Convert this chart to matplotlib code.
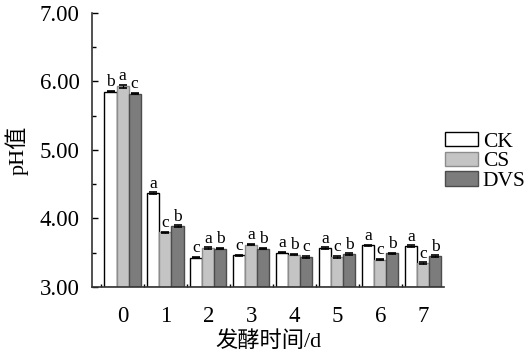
import numpy as np
import matplotlib.pyplot as plt

plt.rcParams['font.family'] = ['Liberation Serif', 'Noto Sans CJK SC']
plt.rcParams['axes.unicode_minus'] = False

days = ['0', '1', '2', '3', '4', '5', '6', '7']
groups = ['CK', 'CS', 'DVS']

ph_ck = [5.85, 4.37, 3.43, 3.46, 3.50, 3.57, 3.61, 3.60]
ph_cs = [5.93, 3.80, 3.57, 3.62, 3.47, 3.44, 3.40, 3.35]
ph_dvs = [5.82, 3.89, 3.56, 3.56, 3.44, 3.48, 3.49, 3.45]

err_ck = [0.01, 0.01, 0.01, 0.01, 0.01, 0.01, 0.01, 0.01]
err_cs = [0.02, 0.01, 0.01, 0.01, 0.01, 0.01, 0.01, 0.01]
err_dvs = [0.01, 0.01, 0.01, 0.01, 0.01, 0.01, 0.01, 0.01]

sig_ck = ['b', 'a', 'c', 'c', 'a', 'a', 'a', 'a']
sig_cs = ['a', 'c', 'a', 'a', 'b', 'c', 'c', 'c']
sig_dvs = ['c', 'b', 'b', 'b', 'c', 'b', 'b', 'b']

faces = ['white', '#c4c4c4', '#7c7c7c']
edges = ['black', '#8c8c8c', '#4c4c4c']

fig = plt.figure(figsize=(5.32, 3.57), dpi=100)
ax = fig.add_axes([0.173, 0.196, 0.662, 0.768])

x = np.arange(len(days))
w = 0.28
series = [(ph_ck, err_ck, sig_ck), (ph_cs, err_cs, sig_cs), (ph_dvs, err_dvs, sig_dvs)]

for i, (vals, errs, sigs) in enumerate(series):
    pos = x + (i - 1) * w
    ax.bar(pos, np.array(vals) - 3, w, bottom=3, color=faces[i], edgecolor=edges[i],
           linewidth=1.0, label=groups[i], zorder=2)
    ax.errorbar(pos, vals, yerr=errs, fmt='none', ecolor='black', elinewidth=0.8,
                capsize=3, capthick=1.2, zorder=3)
    for p, v, e, s in zip(pos, vals, errs, sigs):
        ax.text(p, v + e + 0.01, s, ha='center', va='bottom', fontsize=12.5)

ax.set_xlim(-0.71, 7.49)
ax.set_ylim(3, 7)
ax.set_yticks([3, 4, 5, 6, 7])
ax.set_yticklabels(['3.00', '4.00', '5.00', '6.00', '7.00'])
ax.set_yticks([3.5, 4.5, 5.5, 6.5], minor=True)
ax.set_xticks(x)
ax.set_xticklabels(days)
ax.set_xticks(np.arange(-0.5, 7.5, 1), minor=True)

ax.tick_params(axis='y', which='major', direction='in', length=4, width=1, labelsize=16.5, pad=9)
ax.tick_params(axis='y', which='minor', direction='in', length=3, width=1)
ax.tick_params(axis='x', which='major', length=0, labelsize=16.5, pad=14)
ax.tick_params(axis='x', which='minor', direction='in', length=2, width=1)

for s in ['top', 'right']:
    ax.spines[s].set_visible(False)
for s in ['left', 'bottom']:
    ax.spines[s].set_linewidth(1.2)
    ax.spines[s].set_color('#333333')

ax.set_ylabel('pH值', fontsize=16, labelpad=8)
ax.set_xlabel('发酵时间/d', fontsize=16, labelpad=3)

ax.legend(loc='upper left', bbox_to_anchor=(445 / 532, 1 - 132 / 357),
          bbox_transform=fig.transFigure, frameon=False, fontsize=15.5,
          handlelength=1.55, handleheight=0.65, labelspacing=0.0, handletextpad=0.2,
          borderaxespad=0.0, borderpad=0.0)

fig.savefig('out.png', dpi=100)
